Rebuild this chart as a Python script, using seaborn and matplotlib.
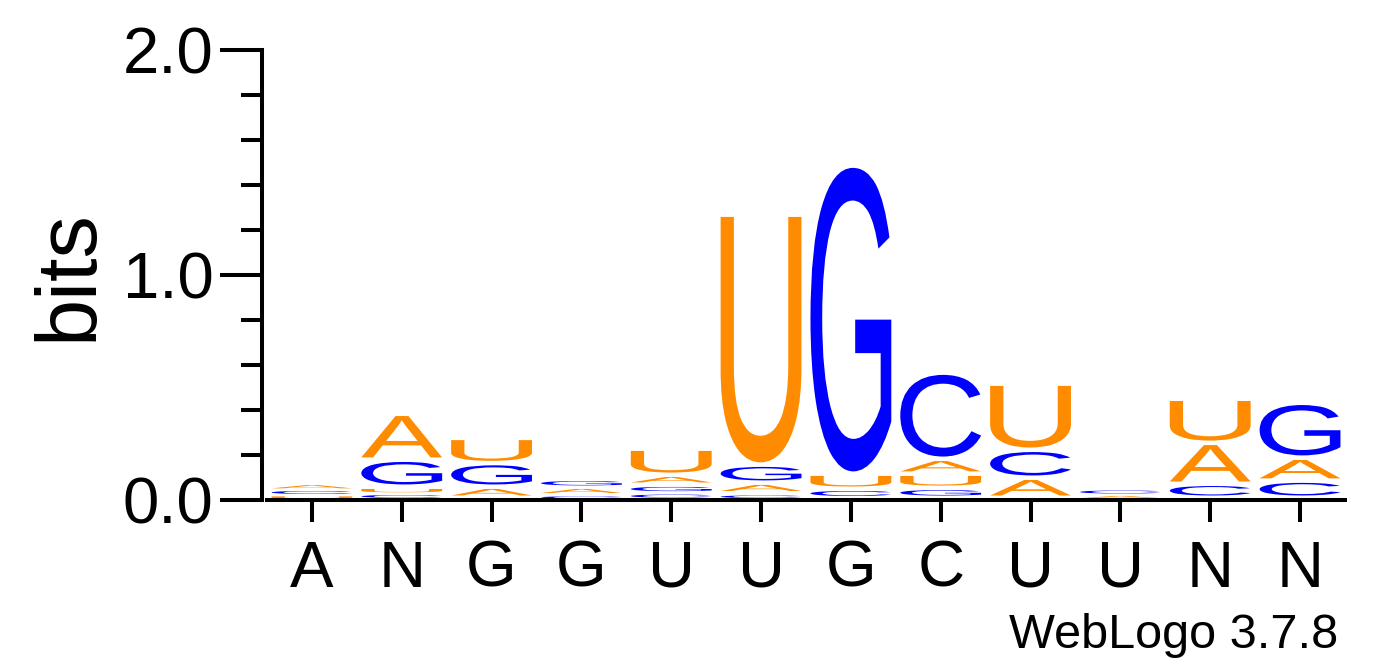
import matplotlib
matplotlib.use('Agg')
import matplotlib.pyplot as plt
import numpy as np
import seaborn as sns
from matplotlib.font_manager import FontProperties
from matplotlib.patches import PathPatch
from matplotlib.textpath import TextPath
from matplotlib.transforms import Affine2D
from matplotlib.ticker import MultipleLocator, FixedLocator

# consensus labels under each column
consensus = ['A', 'N', 'G', 'G', 'U', 'U', 'G', 'C', 'U', 'U', 'N', 'N']

# stacked heights (bits) per base, one value per column
A_bits = [0.026, 0.204, 0.049, 0.033, 0.044, 0.047, 0.000, 0.066, 0.089, 0.018, 0.182, 0.102]
C_bits = [0.024, 0.022, 0.000, 0.016, 0.024, 0.020, 0.040, 0.383, 0.124, 0.024, 0.062, 0.076]
G_bits = [0.000, 0.120, 0.105, 0.035, 0.034, 0.080, 1.369, 0.044, 0.000, 0.000, 0.000, 0.244]
U_bits = [0.016, 0.027, 0.112, 0.000, 0.116, 1.111, 0.067, 0.063, 0.294, 0.000, 0.196, 0.000]

BASE_COLORS = {'A': '#FF8C00', 'C': '#0000FF', 'G': '#0000FF', 'U': '#FF8C00'}
LETTER_W = 0.9

sns.set_theme(style='ticks', rc={'text.color': 'black', 'axes.labelcolor': 'black',
                                 'xtick.color': 'black', 'ytick.color': 'black',
                                 'axes.edgecolor': 'black'})
plt.rcParams['font.family'] = ['Liberation Sans', 'DejaVu Sans']

fig = plt.figure(figsize=(13.92, 6.67), dpi=100)
ax = fig.add_axes([0.1918, 0.2504, 0.7744, 0.6747])

glyph_font = FontProperties(family='Liberation Sans')


def draw_letter(ax, letter, x, y0, h):
    gap = min(0.02, 0.45 * h)
    hh = h - gap
    if hh <= 0:
        return
    path = TextPath((0, 0), letter, size=1, prop=glyph_font)
    bb = path.get_extents()
    tr = (Affine2D().translate(-bb.x0, -bb.y0)
          .scale(LETTER_W / bb.width, hh / bb.height)
          .translate(x - LETTER_W / 2, y0 + gap))
    ax.add_patch(PathPatch(tr.transform_path(path), fc=BASE_COLORS[letter], ec='none', lw=0))


bits = {'A': A_bits, 'C': C_bits, 'G': G_bits, 'U': U_bits}
for i in range(len(consensus)):
    col = [(bits[b][i], b) for b in 'ACGU' if bits[b][i] > 0]
    col.sort()
    y = 0.0
    for h, b in col:
        draw_letter(ax, b, i + 1, y, h)
        y += h

ax.set_xlim(0.5, len(consensus) + 0.5)
ax.set_ylim(0, 2)
ax.xaxis.set_major_locator(FixedLocator(np.arange(1, len(consensus) + 1)))
ax.set_xticklabels(consensus)
ax.yaxis.set_major_locator(FixedLocator([0, 1, 2]))
ax.yaxis.set_minor_locator(MultipleLocator(0.2))
ax.set_yticklabels(['0.0', '1.0', '2.0'])

sns.despine(ax=ax)
ax.spines['left'].set_position(('outward', 3.6))
for s in ('left', 'bottom'):
    ax.spines[s].set_linewidth(2.9)
    ax.spines[s].set_color('black')

ax.tick_params(axis='y', which='major', length=30, width=2.9, labelsize=47, pad=5,
               color='black', labelcolor='black')
ax.tick_params(axis='y', which='minor', length=15, width=2.9, color='black')
ax.tick_params(axis='x', which='major', length=15.5, width=2.9, labelsize=47, pad=13,
               color='black', labelcolor='black')

ax.set_ylabel('bits', fontsize=61, color='black')
ax.yaxis.set_label_coords(-0.183, 0.5)
ax.yaxis.label.set_verticalalignment('center')
ax.grid(False)

fig.text(1338 / 1392, (667 - 648) / 667, 'WebLogo 3.7.8', ha='right', va='baseline',
         fontsize=35, color='black')

fig.savefig('out.png', dpi=100, facecolor='white')
